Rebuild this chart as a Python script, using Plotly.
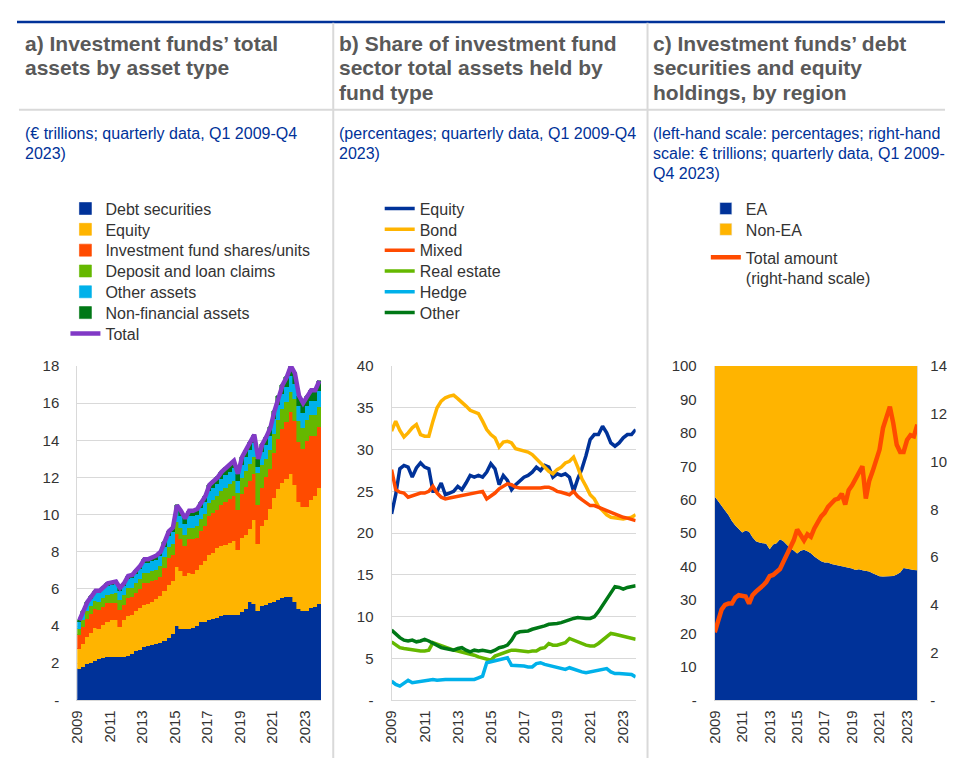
import plotly.graph_objects as go

# the page keeps the browser's 8px body margin, so the figure is 16px smaller than the window
WIN_W, WIN_H = 955, 774
OFF = 8
W, H = WIN_W - 2 * OFF, WIN_H - 2 * OFF
FONT = "Arial, Liberation Sans, sans-serif"

# quarterly data, Q1 2009 - Q4 2023 (60 quarters)
YEARS = [2009, 2011, 2013, 2015, 2017, 2019, 2021, 2023]

# a) total assets by asset type, EUR trillions
DEBT = [1.67, 1.8, 1.95, 2.02, 2.1, 2.2, 2.28, 2.33, 2.35, 2.36, 2.36, 2.36,
        2.4, 2.5, 2.65, 2.72, 2.85, 2.95, 3.0, 3.02, 3.1, 3.2, 3.35, 3.55,
        4.0, 3.85, 3.85, 3.85, 3.9, 4.0, 4.2, 4.2, 4.3, 4.4, 4.45, 4.55,
        4.6, 4.6, 4.62, 4.62, 4.75, 4.9, 5.3, 5.2, 4.8, 5.1, 5.15, 5.25,
        5.3, 5.4, 5.5, 5.55, 5.55, 5.3, 4.9, 4.8, 4.8, 4.95, 5.0, 5.2]
EQUITY = [1.08, 1.25, 1.45, 1.63, 1.8, 1.65, 1.77, 1.87, 1.95, 1.99, 1.59, 1.94,
          2.15, 2.1, 2.15, 2.23, 2.3, 2.25, 2.3, 2.43, 2.5, 2.7, 2.85, 2.85,
          3.2, 3.1, 2.85, 3.0, 2.9, 3.0, 3.1, 3.3, 3.5, 3.55, 3.75, 3.75,
          3.75, 3.85, 3.98, 3.48, 4.0, 4.0, 3.9, 4.5, 3.6, 4.3, 4.55, 5.05,
          5.6, 6.0, 6.2, 6.35, 6.65, 6.3, 5.8, 5.6, 5.6, 5.85, 6.0, 6.25]
IF_SHARES = [0.75, 0.89, 1.0, 0.99, 1.0, 1.02, 1.0, 1.02, 0.92, 0.91, 0.92, 0.83,
             0.96, 0.95, 0.98, 1.05, 1.18, 1.12, 1.1, 1.02, 1.04, 1.2, 1.47, 1.42,
             1.78, 1.73, 1.59, 1.82, 1.86, 1.73, 1.8, 1.86, 2.12, 2.13, 2.04, 2.2,
             2.31, 2.38, 2.38, 2.14, 2.38, 2.58, 2.63, 2.49, 2.1, 2.05, 2.3, 2.17,
             2.44, 2.68, 2.92, 3.06, 3.3, 3.46, 3.2, 3.12, 3.57, 3.44, 3.24, 3.26]
DEPOSITS = [0.35, 0.38, 0.4, 0.42, 0.44, 0.45, 0.46, 0.47, 0.5, 0.5, 0.55, 0.52,
            0.52, 0.52, 0.53, 0.54, 0.55, 0.55, 0.56, 0.57, 0.58, 0.6, 0.6, 0.62,
            0.62, 0.62, 0.62, 0.62, 0.64, 0.65, 0.66, 0.68, 0.7, 0.72, 0.74, 0.76,
            0.78, 0.8, 0.82, 0.9, 0.86, 0.88, 0.9, 0.92, 1.76, 1.2, 1.0, 1.0,
            1.0, 1.02, 1.05, 1.08, 1.1, 1.15, 1.15, 1.15, 1.1, 1.1, 1.1, 1.1]
OTHER_ASSETS = [0.35, 0.38, 0.4, 0.42, 0.44, 0.45, 0.46, 0.47, 0.48, 0.49, 0.48, 0.49,
                0.5, 0.5, 0.51, 0.52, 0.52, 0.53, 0.53, 0.54, 0.55, 0.56, 0.58, 0.6,
                0.62, 0.62, 0.6, 0.61, 0.6, 0.61, 0.62, 0.63, 0.64, 0.65, 0.66, 0.67,
                0.68, 0.68, 0.7, 0.66, 0.7, 0.72, 0.74, 0.75, 0.3, 0.7, 0.74, 0.76,
                0.78, 0.8, 0.82, 0.84, 0.86, 0.84, 0.8, 0.78, 0.78, 0.8, 0.8, 0.82]
NON_FIN = [0.1, 0.1, 0.1, 0.12, 0.12, 0.13, 0.13, 0.14, 0.15, 0.15, 0.15, 0.16,
           0.17, 0.18, 0.18, 0.19, 0.2, 0.2, 0.21, 0.22, 0.23, 0.24, 0.25, 0.26,
           0.28, 0.28, 0.29, 0.3, 0.3, 0.31, 0.32, 0.33, 0.34, 0.35, 0.36, 0.37,
           0.38, 0.39, 0.4, 0.4, 0.41, 0.42, 0.43, 0.44, 0.44, 0.45, 0.46, 0.47,
           0.48, 0.5, 0.51, 0.52, 0.54, 0.55, 0.55, 0.55, 0.55, 0.56, 0.56, 0.57]

# b) share of sector total assets by fund type, percentages
EQ_FUND = [22.3, 24.6, 27.7, 28.1, 27.9, 26.7, 27.8, 28.4, 27.9, 27.7,
           25.0, 25.0, 26.0, 24.6, 24.8, 25.0, 25.6, 25.2, 26.0, 26.9,
           26.7, 26.9, 26.7, 27.3, 28.3, 27.7, 25.8, 26.9, 26.3, 25.2,
           25.8, 26.3, 26.7, 26.9, 27.3, 27.9, 27.5, 28.1, 27.9, 26.7,
           27.1, 26.9, 27.1, 26.7, 25.0, 26.5, 27.7, 29.3, 31.2, 31.8,
           31.8, 32.8, 32.0, 30.8, 30.4, 30.8, 31.4, 31.8, 31.8, 32.4]
BOND_FUND = [32.2, 33.4, 32.3, 31.5, 32.0, 32.6, 33.0, 31.8, 31.6, 31.6,
             33.4, 35.0, 35.8, 36.2, 36.4, 36.5, 36.1, 35.7, 35.2, 34.7,
             34.5, 34.3, 33.4, 32.4, 31.8, 31.4, 30.3, 30.9, 31.0, 30.8,
             30.1, 30.0, 29.8, 29.7, 29.4, 28.9, 28.3, 27.9, 27.4, 27.1,
             27.6, 27.9, 28.4, 28.6, 29.1, 27.9, 26.5, 25.6, 24.6, 24.1,
             23.2, 22.7, 22.2, 21.9, 21.8, 21.7, 21.7, 21.8, 21.9, 22.2]
MIXED_FUND = [27.6, 25.2, 24.9, 24.8, 24.3, 24.5, 24.7, 24.8, 24.8, 25.0,
              25.6, 24.8, 24.3, 24.1, 24.2, 24.3, 24.4, 24.6, 24.7, 24.8,
              24.8, 24.9, 25.0, 24.1, 24.4, 24.8, 25.3, 25.6, 25.9, 25.8,
              25.5, 25.4, 25.4, 25.3, 25.3, 25.4, 25.4, 25.5, 25.5, 25.3,
              25.0, 24.9, 24.7, 24.6, 25.0, 24.4, 24.0, 23.6, 23.3, 23.3,
              23.1, 22.9, 22.7, 22.4, 22.2, 22.0, 21.9, 21.8, 21.7, 21.5]
REAL_ESTATE = [7.0, 6.6, 6.3, 6.2, 6.1, 6.0, 5.9, 5.9, 5.9, 6.0,
               6.9, 6.7, 6.5, 6.3, 6.2, 6.0, 5.9, 5.8, 5.7, 5.5,
               5.4, 5.2, 5.1, 4.9, 4.8, 5.3, 5.5, 5.6, 5.8, 6.0,
               6.0, 5.9, 5.9, 5.8, 5.9, 5.9, 6.2, 6.3, 6.8, 6.6,
               6.6, 6.7, 6.9, 7.4, 7.2, 6.9, 6.7, 6.6, 6.5, 6.5,
               6.8, 7.2, 7.7, 8.0, 7.9, 7.8, 7.6, 7.5, 7.5, 7.3]
HEDGE = [2.3, 1.9, 1.7, 2.1, 2.4, 2.1, 2.2, 2.3, 2.3, 2.4,
         2.5, 2.4, 2.5, 2.5, 2.5, 2.5, 2.5, 2.5, 2.6, 2.6,
         2.5, 2.7, 2.9, 4.5, 4.6, 4.8, 4.9, 5.0, 5.1, 4.2,
         4.2, 4.1, 4.1, 4.0, 4.0, 4.4, 4.5, 4.3, 4.2, 4.1,
         4.0, 3.8, 3.7, 3.9, 3.7, 3.5, 3.4, 3.3, 3.4, 3.5,
         3.5, 3.7, 3.8, 3.4, 3.2, 3.2, 3.2, 3.1, 3.1, 2.8]
OTHER_FUND = [8.4, 7.9, 7.5, 7.2, 7.1, 7.2, 7.0, 7.1, 7.3, 7.1,
              6.8, 6.5, 6.3, 6.2, 6.1, 6.0, 6.2, 6.3, 6.0, 5.8,
              6.0, 5.9, 6.0, 5.9, 5.8, 6.0, 6.3, 6.4, 6.6, 7.2,
              8.0, 8.2, 8.2, 8.3, 8.5, 8.6, 8.7, 8.9, 9.1, 9.1,
              9.2, 9.3, 9.5, 9.7, 9.8, 9.9, 9.8, 9.8, 9.8, 10.0,
              10.6, 11.4, 12.0, 12.8, 13.6, 13.5, 13.3, 13.5, 13.6, 13.7]

# c) debt securities and equity holdings by region
EA_SHARE = [61.0, 59.5, 58.2, 56.8, 55.4, 53.6, 52.3, 51.2, 50.2, 50.8,
            50.4, 48.8, 47.6, 47.2, 47.0, 46.8, 45.2, 46.6, 47.0, 48.2,
            47.6, 46.5, 45.5, 44.8, 43.9, 44.7, 45.0, 44.6, 44.0, 43.0,
            42.2, 41.6, 41.2, 41.2, 40.8, 40.6, 40.4, 40.2, 40.0, 39.8,
            39.4, 39.0, 39.2, 38.9, 38.8, 38.5, 38.0, 37.5, 37.1, 37.0,
            37.0, 37.0, 37.2, 37.6, 38.2, 39.6, 39.4, 39.0, 39.0, 38.9]
NON_EA_SHARE = [39.0, 40.5, 41.8, 43.2, 44.6, 46.4, 47.7, 48.8, 49.8, 49.2,
                49.6, 51.2, 52.4, 52.8, 53.0, 53.2, 54.8, 53.4, 53.0, 51.8,
                52.4, 53.5, 54.5, 55.2, 56.1, 55.3, 55.0, 55.4, 56.0, 57.0,
                57.8, 58.4, 58.8, 58.8, 59.2, 59.4, 59.6, 59.8, 60.0, 60.2,
                60.6, 61.0, 60.8, 61.1, 61.2, 61.5, 62.0, 62.5, 62.9, 63.0,
                63.0, 63.0, 62.8, 62.4, 61.8, 60.4, 60.6, 61.0, 61.0, 61.1]
TOTAL_AMOUNT = [2.85, 3.35, 3.8, 4.0, 4.05, 4.05, 4.3, 4.4, 4.38, 4.35,
                4.05, 4.4, 4.55, 4.65, 4.8, 4.95, 5.2, 5.25, 5.35, 5.5,
                5.8, 6.1, 6.4, 6.7, 7.15, 6.95, 6.7, 6.95, 6.85, 7.2,
                7.5, 7.7, 7.85, 8.1, 8.25, 8.4, 8.45, 8.65, 8.2, 8.8,
                9.0, 9.3, 9.5, 9.8, 8.45, 9.2, 9.6, 10.0, 10.5, 11.4,
                11.8, 12.3, 11.6, 10.7, 10.4, 10.4, 10.9, 11.1, 11.05, 11.55]

BLUE = "#003299"
YELLOW = "#ffb400"
RED = "#ff4b00"
GREEN = "#65b800"
CYAN = "#00b1ea"
DGREEN = "#007816"
PURPLE = "#8139c6"
GRID = "#d9d9d9"
TICK_COL = "#333333"

q = list(range(len(DEBT)))
TOTAL = [round(sum(v), 2) for v in zip(DEBT, EQUITY, IF_SHARES, DEPOSITS, OTHER_ASSETS, NON_FIN)]
year_pos = [(y - 2009) * 4 for y in YEARS]
year_txt = [str(y) for y in YEARS]


# positions below are window pixels, converted to figure paper coordinates
def px_x(p):
    return (p - OFF) / W


def px_y(p):
    return 1 - (p - OFF) / H


fig = go.Figure()
legends = {}
ROW0, ROW_STEP = 204, 21.3


def legend_slot(text_x, row):
    # one legend per entry so the rows keep the reference spacing
    key = "legend" if not legends else "legend%d" % (len(legends) + 1)
    legends[key] = dict(x=px_x(text_x - 40), y=px_y(ROW0 + row * ROW_STEP), xanchor="left", yanchor="middle",
                        valign="top", font=dict(family=FONT, size=16, color="#333333"),
                        bgcolor="rgba(0,0,0,0)", borderwidth=0, itemwidth=30)
    return key


# panel a: stacked columns + total line
for i, (name, vals, col) in enumerate([
    ("Debt securities", DEBT, BLUE),
    ("Equity", EQUITY, YELLOW),
    ("Investment fund shares/units", IF_SHARES, RED),
    ("Deposit and loan claims", DEPOSITS, GREEN),
    ("Other assets", OTHER_ASSETS, CYAN),
    ("Non-financial assets", NON_FIN, DGREEN),
]):
    fig.add_trace(go.Bar(x=q, y=vals, name=name, marker=dict(color=col, line=dict(width=0.6, color=col)),
                         xaxis="x", yaxis="y", legend=legend_slot(97, i)))
fig.add_trace(go.Scatter(x=q, y=TOTAL, name="Total", mode="lines", line=dict(color=PURPLE, width=4.5),
                         xaxis="x", yaxis="y", legend=legend_slot(97, 6)))

# panel b: lines
for i, (name, vals, col) in enumerate([
    ("Equity", EQ_FUND, BLUE),
    ("Bond", BOND_FUND, YELLOW),
    ("Mixed", MIXED_FUND, RED),
    ("Real estate", REAL_ESTATE, GREEN),
    ("Hedge", HEDGE, CYAN),
    ("Other", OTHER_FUND, DGREEN),
]):
    fig.add_trace(go.Scatter(x=q, y=vals, name=name, mode="lines", line=dict(color=col, width=3.5),
                             xaxis="x2", yaxis="y2", legend=legend_slot(415, i)))

# panel c: stacked areas (square legend keys) + total amount on right-hand scale
for i, (name, vals, col) in enumerate([("EA", EA_SHARE, BLUE), ("Non-EA", NON_EA_SHARE, YELLOW)]):
    fig.add_trace(go.Scatter(x=q, y=vals, name=name, mode="lines", stackgroup="c", line=dict(width=0, color=col),
                             fillcolor=col, xaxis="x3", yaxis="y3", showlegend=False))
    fig.add_trace(go.Bar(x=[None], y=[None], name=name, marker_color=col, xaxis="x3", yaxis="y3",
                         legend=legend_slot(745, i)))
fig.add_trace(go.Scatter(x=q, y=TOTAL_AMOUNT, name="Total amount<br>(right-hand scale)", mode="lines",
                         line=dict(color=RED, width=4.5), xaxis="x3", yaxis="y4", legend=legend_slot(745, 2)))
legends[list(legends)[-1]].update(y=px_y(ROW0 + 2 * ROW_STEP - 10), yanchor="top")

tickfont = dict(family=FONT, size=15, color=TICK_COL)


def xaxis(dom, rng, tv, anchor):
    return dict(domain=dom, range=rng, tickvals=tv, ticktext=year_txt, tickangle=-90, showgrid=False,
                zeroline=False, showline=True, linecolor=GRID, linewidth=1, ticks="", tickfont=tickfont,
                ticklabelstandoff=3, anchor=anchor)


def yaxis(dom, top, step, anchor, side="left"):
    vals = list(range(0, top + 1, step))
    return dict(domain=dom, range=[0, top], tickvals=vals, ticktext=["-"] + [str(v) for v in vals[1:]],
                showgrid=True, gridcolor=GRID, gridwidth=1, zeroline=False, showline=True, linecolor=GRID,
                ticks="", tickfont=tickfont, ticklabelstandoff=14, anchor=anchor, side=side)


ydom = [px_y(707), px_y(365)]
fig.update_layout(
    width=W, height=H,
    margin=dict(l=0, r=0, t=0, b=0),
    paper_bgcolor="white", plot_bgcolor="white",
    barmode="stack", bargap=0,
    font=dict(family=FONT, color=TICK_COL),
    showlegend=True,
    xaxis=xaxis([px_x(69), px_x(316)], [-0.5, 59.5], [p - 0.5 for p in year_pos], "y"),
    yaxis=yaxis(ydom, 18, 2, "x"),
    xaxis2=xaxis([px_x(387), px_x(634)], [0, 59], year_pos, "y2"),
    yaxis2=yaxis(ydom, 40, 5, "x2"),
    xaxis3=xaxis([px_x(714), px_x(919)], [0, 59], year_pos, "y3"),
    yaxis3=yaxis(ydom, 100, 10, "x3"),
    yaxis4=dict(yaxis(ydom, 14, 2, "x3", side="right"), overlaying="y3", showgrid=False, ticklabelstandoff=9),
    **legends,
)

# header frame: blue top rule, grey dividers
shapes = [
    dict(type="line", xref="paper", yref="paper", x0=0, x1=1, y0=px_y(13), y1=px_y(13),
         line=dict(color=BLUE, width=2.5)),
    dict(type="line", xref="paper", yref="paper", x0=px_x(10), x1=1, y0=px_y(103), y1=px_y(103),
         line=dict(color=GRID, width=2)),
]
for xp in [328, 646]:
    shapes.append(dict(type="line", xref="paper", yref="paper", x0=px_x(xp), x1=px_x(xp), y0=0, y1=px_y(14),
                       line=dict(color=GRID, width=2)))
fig.update_layout(shapes=shapes)

titles = [
    (14, ["a) Investment funds’ total", "assets by asset type"],
     ["(€ trillions; quarterly data, Q1 2009-Q4", "2023)"]),
    (332, ["b) Share of investment fund", "sector total assets held by", "fund type"],
     ["(percentages; quarterly data, Q1 2009-Q4", "2023)"]),
    (650, ["c) Investment funds’ debt", "securities and equity", "holdings, by region"],
     ["(left-hand scale: percentages; right-hand", "scale: € trillions; quarterly data, Q1 2009-", "Q4 2023)"]),
]
for xp, title, sub in titles:
    for k, line in enumerate(title):
        fig.add_annotation(xref="paper", yref="paper", x=px_x(xp), y=px_y(35 + 25 * k), xanchor="left",
                           yanchor="middle", text="<b>" + line + "</b>", showarrow=False,
                           font=dict(family=FONT, size=21, color="#595959"))
    for k, line in enumerate(sub):
        fig.add_annotation(xref="paper", yref="paper", x=px_x(xp), y=px_y(127 + 20.3 * k), xanchor="left",
                           yanchor="middle", text=line, showarrow=False,
                           font=dict(family=FONT, size=16, color=BLUE))

fig.write_html("out.html", config={"displayModeBar": False})
